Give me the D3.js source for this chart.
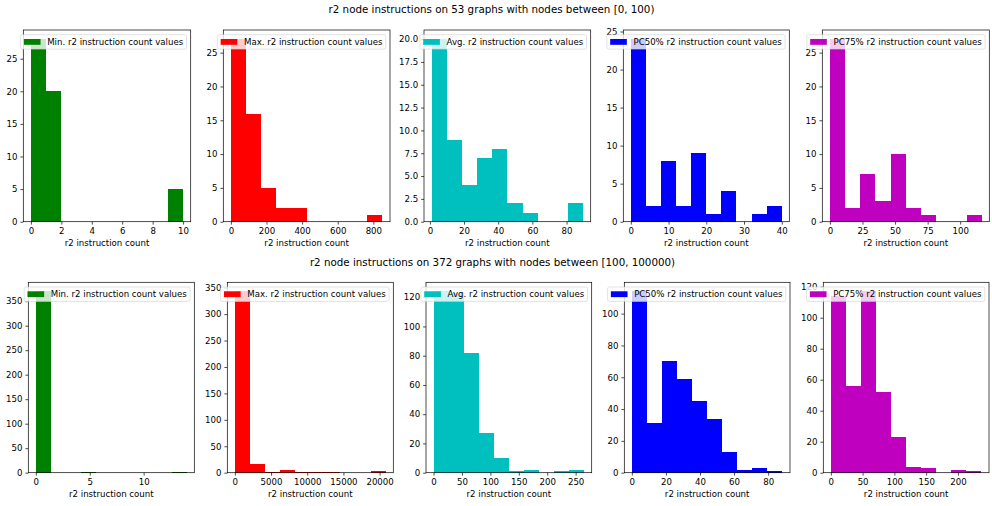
<!DOCTYPE html>
<html>
<head>
<meta charset="utf-8">
<script src="https://cdn.jsdelivr.net/npm/d3@7"></script>
<style>
  body { margin: 0; background: #fff; }
  svg { display: block; font-family: "DejaVu Sans", sans-serif; }
</style>
</head>
<body>
<div id="chart"></div>
<script>
// --------------------
// 1) DATA
// --------------------
const rowTitles = [
  "r2 node instructions on 53 graphs with nodes between [0, 100)",
  "r2 node instructions on 372 graphs with nodes between [100, 100000)"
];
const seriesNames = ["Min.", "Max.", "Avg.", "PC50%", "PC75%"];
const seriesColors = ["#008000", "#ff0000", "#00bfbf", "#0000ff", "#bf00bf"];
const xLabel = "r2 instruction count";

// row 1: graphs with nodes in [0, 100) -- [min, max] of the values, 10 bins
const smallRanges = [[0, 10], [0, 851], [1, 89.7], [0, 40], [0, 116.5]];
const smallCounts = [
  [28, 20, 0, 0, 0, 0, 0, 0, 0, 5],
  [27, 16, 5, 2, 2, 0, 0, 0, 0, 1],
  [20, 9, 4, 7, 8, 2, 1, 0, 0, 2],
  [24, 2, 8, 2, 9, 1, 4, 0, 1, 2],
  [27, 2, 7, 3, 10, 2, 1, 0, 0, 1]
];
const smallXTicks = [
  [0, 2, 4, 6, 8, 10],
  [0, 200, 400, 600, 800],
  [0, 20, 40, 60, 80],
  [0, 10, 20, 30, 40],
  [0, 25, 50, 75, 100]
];
const smallYTicks = [
  [0, 5, 10, 15, 20, 25],
  [0, 5, 10, 15, 20, 25],
  [0, 2.5, 5, 7.5, 10, 12.5, 15, 17.5, 20],
  [0, 5, 10, 15, 20, 25],
  [0, 5, 10, 15, 20, 25]
];

// row 2: graphs with nodes in [100, 100000)
const largeRanges = [[0, 14], [0, 20850], [0, 265], [0, 88.4], [0, 237]];
const largeCounts = [
  [370, 0, 0, 1, 0, 0, 0, 0, 0, 1],
  [343, 16, 2, 5, 1, 1, 1, 0, 0, 3],
  [124, 123, 82, 27, 10, 1, 2, 0, 1, 2],
  [114, 31, 70, 59, 45, 34, 13, 2, 3, 1],
  [114, 56, 117, 52, 23, 4, 3, 0, 2, 1]
];
const largeXTicks = [
  [0, 5, 10],
  [0, 5000, 10000, 15000, 20000],
  [0, 50, 100, 150, 200, 250],
  [0, 20, 40, 60, 80],
  [0, 50, 100, 150, 200]
];
const largeYTicks = [
  [0, 50, 100, 150, 200, 250, 300, 350],
  [0, 50, 100, 150, 200, 250, 300, 350],
  [0, 20, 40, 60, 80, 100, 120],
  [0, 20, 40, 60, 80, 100],
  [0, 20, 40, 60, 80, 100, 120]
];

// ----------------------
// 2) LAYOUT
// ----------------------
const width = 992;
const height = 506;
const fs = 8.6;           // tick / legend font size
const tickLen = 2.9;

const rows = [
  {
    title: rowTitles[0], titleX: 491.5, titleY: 12.9,
    top: 30, bottom: 221.7,
    lefts: [23.3, 223.3, 424, 623.3, 822.3],
    rights: [190.7, 390, 590.7, 789.3, 989.3],
    ranges: smallRanges, counts: smallCounts, xTicks: smallXTicks, yTicks: smallYTicks
  },
  {
    title: rowTitles[1], titleX: 492.5, titleY: 266.3,
    top: 282.3, bottom: 472.7,
    lefts: [28.3, 227.3, 426, 624.3, 823.3],
    rights: [194.3, 393.3, 591.7, 790, 989],
    ranges: largeRanges, counts: largeCounts, xTicks: largeXTicks, yTicks: largeYTicks
  }
];

const svg = d3.select("#chart")
  .append("svg")
  .attr("width", width)
  .attr("height", height);

// ---------------------------
// 3) DRAW EACH PANEL
// ---------------------------
rows.forEach(row => {
  svg.append("text")
    .attr("x", row.titleX)
    .attr("y", row.titleY)
    .attr("text-anchor", "middle")
    .attr("font-size", 10.3)
    .attr("fill", "#000")
    .text(row.title);

  seriesNames.forEach((name, i) => {
    const [lo, hi] = row.ranges[i];
    const counts = row.counts[i];
    const pad = (hi - lo) * 0.05;
    const binW = (hi - lo) / counts.length;

    const x = d3.scaleLinear()
      .domain([lo - pad, hi + pad])
      .range([row.lefts[i], row.rights[i]]);
    const y = d3.scaleLinear()
      .domain([0, d3.max(counts) * 1.05])
      .range([row.bottom, row.top]);

    const g = svg.append("g");

    // bars (crisp edges so neighbouring bins don't show seams)
    g.append("g")
      .attr("shape-rendering", "crispEdges")
      .selectAll("rect")
      .data(counts.map((c, k) => ({ x0: lo + k * binW, x1: lo + (k + 1) * binW, c })).filter(d => d.c > 0))
      .enter()
      .append("rect")
      .attr("x", d => x(d.x0))
      .attr("width", d => x(d.x1) - x(d.x0))
      .attr("y", d => y(d.c))
      .attr("height", d => y(0) - y(d.c))
      .attr("fill", seriesColors[i]);

    // axes
    const yt = row.yTicks[i];
    const yFmt = yt.some(t => t % 1 !== 0) ? d3.format(".1f") : d3.format("d");

    const xAxis = g.append("g")
      .attr("transform", `translate(0,${row.bottom})`)
      .call(d3.axisBottom(x).tickValues(row.xTicks[i]).tickFormat(d3.format("d"))
        .tickSize(tickLen).tickPadding(2.9));
    const yAxis = g.append("g")
      .attr("transform", `translate(${row.lefts[i]},0)`)
      .call(d3.axisLeft(y).tickValues(yt).tickFormat(yFmt)
        .tickSize(tickLen).tickPadding(2.9));

    [xAxis, yAxis].forEach(a => {
      a.select(".domain").remove();
      a.attr("font-family", null).attr("font-size", null);
      a.selectAll("line").attr("stroke", "#000").attr("stroke-width", 0.7);
      a.selectAll("text").attr("font-size", fs).attr("fill", "#000");
    });

    // x label
    g.append("text")
      .attr("x", (row.lefts[i] + row.rights[i]) / 2)
      .attr("y", row.bottom + 24.5)
      .attr("text-anchor", "middle")
      .attr("font-size", fs)
      .attr("fill", "#000")
      .text(xLabel);

    // spines
    g.append("rect")
      .attr("x", row.lefts[i])
      .attr("y", row.top)
      .attr("width", row.rights[i] - row.lefts[i])
      .attr("height", row.bottom - row.top)
      .attr("fill", "none")
      .attr("stroke", "#000")
      .attr("stroke-width", 0.7);

    // legend (upper right)
    const lg = g.append("g");
    const box = lg.append("rect");
    const label = lg.append("text")
      .attr("font-size", fs)
      .attr("fill", "#000")
      .text(`${name} r2 instruction count values`);
    const textW = label.node().getComputedTextLength();
    const bp = 0.4 * 8.33, hl = 2 * 8.33, hh = 0.7 * 8.33, tp = 0.8 * 8.33;
    const bw = 2 * bp + hl + tp + textW;
    const bh = 14.4;
    const bx = row.rights[i] - 4.2 - bw;
    const by = row.top + 4.7;

    box.attr("x", bx).attr("y", by)
      .attr("width", bw).attr("height", bh)
      .attr("rx", 1.7)
      .attr("fill", "#fff").attr("fill-opacity", 0.8)
      .attr("stroke", "#ccc").attr("stroke-opacity", 0.8)
      .attr("stroke-width", 0.7);
    lg.append("rect")
      .attr("x", bx + bp)
      .attr("y", by + bh / 2 - hh / 2)
      .attr("width", hl)
      .attr("height", hh)
      .attr("fill", seriesColors[i]);
    label
      .attr("x", bx + bp + hl + tp)
      .attr("y", by + bh / 2)
      .attr("dy", "0.35em");
  });
});
</script>
</body>
</html>
